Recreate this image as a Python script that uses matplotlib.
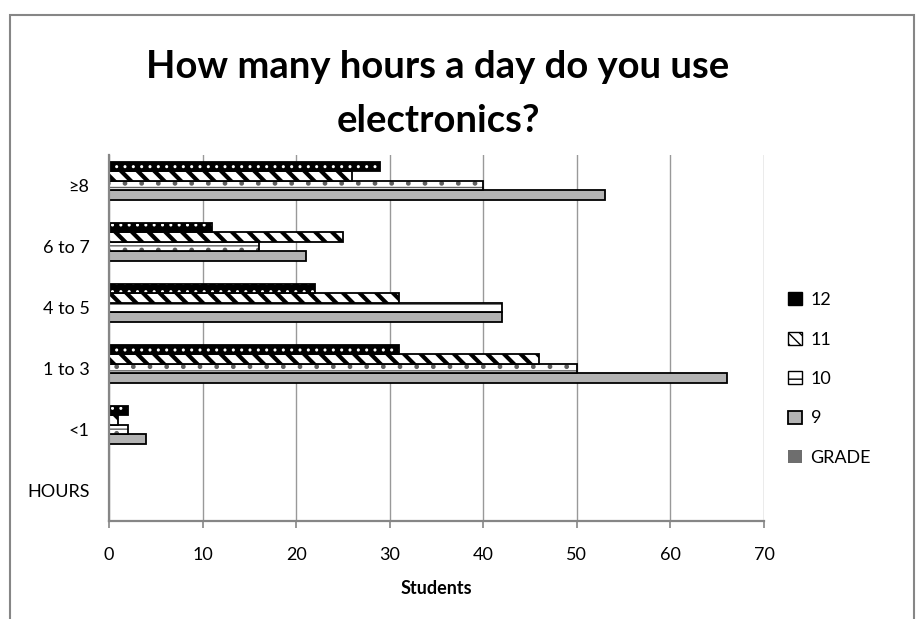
import matplotlib
matplotlib.use('Agg')
import matplotlib.pyplot as plt
import numpy as np
from matplotlib.patches import Patch, Rectangle

plt.rcParams['font.family'] = ['Lato', 'DejaVu Sans']

# data (bottom category first)
hours = ['HOURS', '<1', '1 to 3', '4 to 5', '6 to 7', '≥8']
grade_col = [0, 0, 0, 0, 0, 0]
g9 = [0, 4, 66, 42, 21, 53]
g10 = [0, 2, 50, 42, 16, 40]
g11 = [0, 1, 46, 31, 25, 26]
g12 = [0, 2, 31, 22, 11, 29]
xticks = [0, 10, 20, 30, 40, 50, 60, 70]

fig = plt.figure(figsize=(9.24, 6.19), dpi=100)
ax = fig.add_axes([109/924, 98/619, 655/924, 366/619])

y = np.arange(len(hours))
h = 0.157
axis_gray = '#868686'

# GRADE (series 1, bottom slot) - all empty
ax.barh(y - 2*h, grade_col, height=h, color='#6e6e6e', lw=0)
# 9
ax.barh(y - h, g9, height=h, color='#b3b3b3', edgecolor='black', lw=1.3)
# 10
ax.barh(y, g10, height=h, color='white', edgecolor='#606060', hatch='--.', lw=0)
ax.barh(y, g10, height=h, fill=False, edgecolor='black', lw=1.3)
# 11
with plt.rc_context({'hatch.linewidth': 3.0}):
    ax.barh(y + h, g11, height=h, color='white', edgecolor='black', hatch='\\\\', lw=0)
ax.barh(y + h, g11, height=h, fill=False, edgecolor='black', lw=1.3)
# 12
ax.barh(y + 2*h, g12, height=h, color='black', edgecolor='white', hatch='..', lw=0)
ax.barh(y + 2*h, g12, height=h, fill=False, edgecolor='black', lw=1.3)

ax.set_xlim(0, 70)
ax.set_ylim(-0.5, len(hours) - 0.5)
ax.set_xticks(xticks)
ax.set_yticks(y)
ax.set_yticklabels(hours)
ax.tick_params(axis='y', length=0, pad=14, labelsize=13)
ax.tick_params(axis='x', length=5, width=1.2, color=axis_gray, pad=14, labelsize=13)
ax.xaxis.grid(True, color='#999999', lw=1)
ax.set_axisbelow(True)
for s in ['top', 'right']:
    ax.spines[s].set_visible(False)
for s in ['left', 'bottom']:
    ax.spines[s].set_color(axis_gray)
    ax.spines[s].set_linewidth(1.6)
ax.set_xlabel('Students', fontsize=13, fontweight='bold', labelpad=12)

fig.text(438/924, 1 - 94/619, 'How many hours a day do you use\nelectronics?',
         ha='center', va='center', fontsize=27.5, fontweight='bold', linespacing=1.7)

handles = [
    Patch(facecolor='black', edgecolor='black'),
    Patch(facecolor='white', edgecolor='black', hatch='\\\\\\'),
    Patch(facecolor='white', edgecolor='black', hatch='--'),
    Patch(facecolor='#b3b3b3', edgecolor='black', lw=1.3),
    Patch(facecolor='#6e6e6e', edgecolor='none'),
]
labels = ['12', '11', '10', '9', 'GRADE']
fig.legend(handles, labels, loc='center left', bbox_to_anchor=(779/924, 1 - 379/619),
           frameon=False, fontsize=13, handlelength=0.75, handleheight=0.75,
           handletextpad=0.5, labelspacing=1.3, borderpad=0)

# chart area border
fig.add_artist(Rectangle((10/924, -0.05), 904/924, 1.05 - 15/619, transform=fig.transFigure,
                         fill=False, edgecolor=axis_gray, lw=1.5))

fig.savefig('out.png', dpi=100)
